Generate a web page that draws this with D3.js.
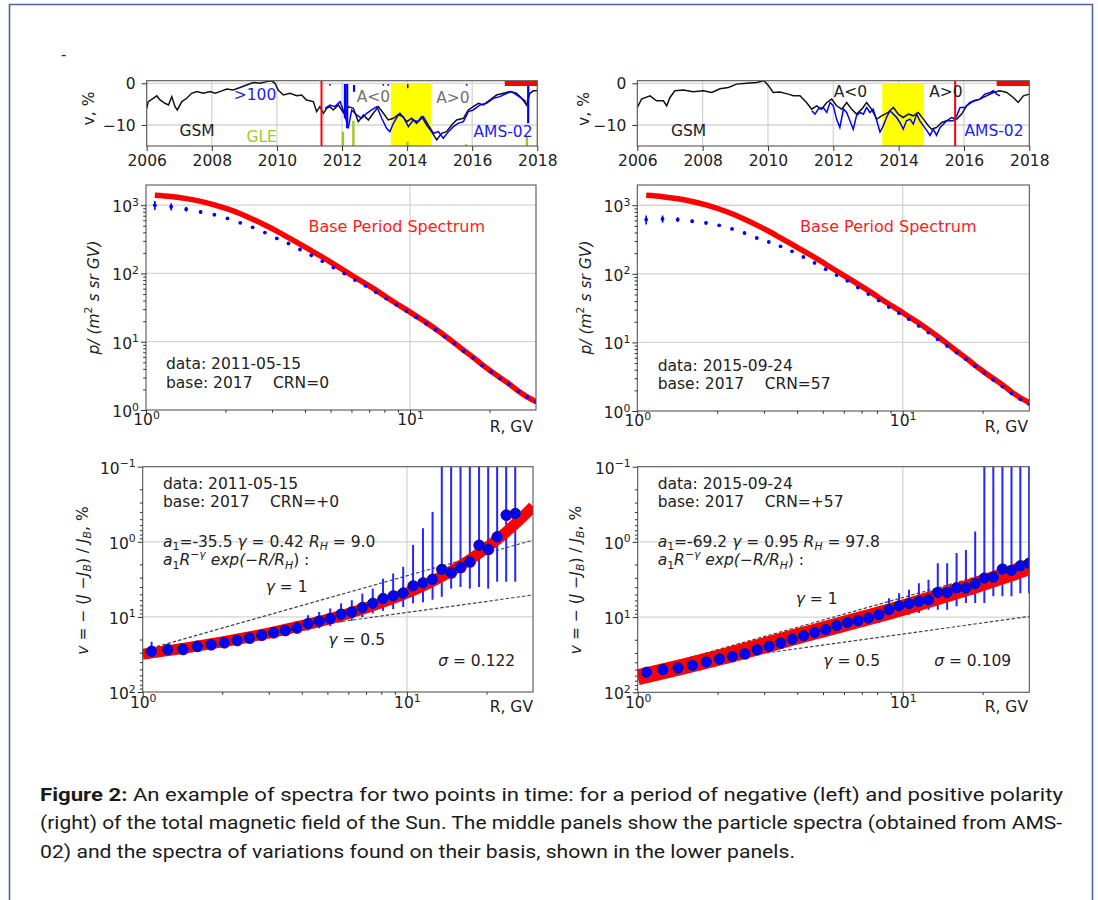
<!DOCTYPE html>
<html><head><meta charset="utf-8">
<script src="https://cdn.jsdelivr.net/npm/d3@7"></script>
<style>
body{margin:0;background:#fff}
svg{display:block}
text{font-family:"DejaVu Sans",sans-serif;fill:#222}
</style>
</head><body>
<svg id="c" width="1098" height="900"></svg>
<script>
// ---------------- DATA ----------------
const yearTicks = [2006,2008,2010,2012,2014,2016,2018];
const vTicks = [0,-10];

const gsmLT = [2006.00,2006.05,2006.20,2006.31,2006.41,2006.56,2006.67,2006.77,2006.87,2006.94,2007.08,2007.23,2007.38,2007.54,2007.74,2007.95,2008.10,2008.25,2008.46,2008.66,2008.87,2009.07,2009.28,2009.48,2009.69,2009.84,2009.94,2010.04,2010.20,2010.40,2010.61,2010.76,2010.91,2011.12,2011.22,2011.32,2011.43,2011.53,2011.63,2011.73,2011.89,2011.99,2012.09,2012.19,2012.35,2012.50,2012.66,2012.81,2012.96,2013.12,2013.27,2013.42,2013.58,2013.78,2013.99,2014.14,2014.29,2014.45,2014.60,2014.75,2014.91,2015.06,2015.21,2015.37,2015.52,2015.73,2015.88,2016.03,2016.19,2016.34,2016.55,2016.75,2016.96,2017.16,2017.36,2017.52,2017.67,2017.77,2017.88,2018.00];
const gsmLV = [-6.0,-4.4,-3.6,-3.0,-4.0,-4.8,-5.2,-3.2,-5.6,-6.4,-4.4,-3.6,-2.4,-2.0,-2.4,-2.0,-2.4,-2.0,-1.4,-1.6,-1.0,-0.4,0.2,0.0,0.4,0.6,0.0,-1.6,-2.8,-2.4,-3.0,-2.8,-4.0,-4.4,-6.8,-5.6,-7.2,-6.0,-5.6,-6.4,-5.2,-6.4,-7.6,-5.6,-6.0,-9.2,-7.6,-8.8,-7.2,-5.6,-7.2,-8.8,-8.4,-7.2,-9.2,-8.4,-9.6,-8.0,-10.0,-11.6,-13.6,-12.0,-11.6,-10.0,-8.8,-8.4,-6.4,-5.6,-4.8,-5.2,-4.0,-2.8,-2.4,-2.0,-2.4,-3.6,-5.2,-2.4,-1.8,-1.8];

const gsmRT = [2006.0,2006.13,2006.39,2006.59,2006.80,2006.90,2007.0,2007.15,2007.41,2007.71,2008.02,2008.28,2008.53,2008.79,2009.04,2009.35,2009.65,2009.88,2010.01,2010.16,2010.37,2010.62,2010.78,2010.98,2011.18,2011.34,2011.49,2011.64,2011.80,2011.95,2012.10,2012.26,2012.41,2012.56,2012.71,2012.87,2013.02,2013.17,2013.33,2013.48,2013.68,2013.84,2013.99,2014.14,2014.30,2014.45,2014.60,2014.76,2014.91,2015.01,2015.16,2015.32,2015.47,2015.62,2015.78,2015.93,2016.08,2016.29,2016.49,2016.69,2016.90,2017.10,2017.31,2017.51,2017.66,2017.82,2018.0];
const gsmRV = [-5.8,-3.8,-3.0,-4.2,-4.2,-5.4,-3.4,-1.8,-1.6,-2.0,-1.8,-2.2,-1.3,-1.0,-0.2,0.0,0.2,0.6,-0.5,-2.2,-2.1,-2.6,-3.0,-3.0,-4.6,-6.2,-5.4,-6.2,-4.6,-3.8,-5.4,-6.2,-4.6,-6.2,-7.4,-6.2,-4.6,-6.2,-8.6,-7.8,-7.0,-5.8,-7.4,-8.2,-7.4,-7.8,-7.0,-8.6,-10.2,-11.0,-10.6,-9.4,-9.0,-8.2,-8.6,-7.4,-5.4,-4.2,-3.8,-3.0,-2.2,-1.8,-2.2,-3.4,-4.6,-3.0,-2.6];

const amsLT = [2011.48,2011.63,2011.78,2011.94,2012.09,2012.19,2012.30,2012.45,2012.60,2012.76,2012.91,2013.07,2013.22,2013.37,2013.47,2013.58,2013.73,2013.88,2014.04,2014.19,2014.34,2014.50,2014.65,2014.81,2014.96,2015.11,2015.27,2015.42,2015.57,2015.73,2015.88,2016.03,2016.24,2016.44,2016.65,2016.85,2017.06,2017.21,2017.36,2017.52,2017.65];
const amsLV = [-6.0,-5.2,-5.6,-4.4,-7.6,-10.8,-6.4,-7.6,-8.4,-7.2,-6.4,-5.6,-8.4,-10.8,-11.6,-9.6,-7.6,-8.0,-10.4,-8.8,-9.2,-8.0,-10.0,-12.0,-11.6,-13.2,-11.6,-10.4,-9.6,-9.2,-6.8,-6.4,-5.2,-4.8,-3.6,-3.2,-2.4,-2.0,-2.8,-3.6,-4.4];

const amsRT = [2011.34,2011.44,2011.54,2011.69,2011.80,2011.90,2012.00,2012.10,2012.20,2012.31,2012.41,2012.51,2012.61,2012.71,2012.82,2012.92,2013.02,2013.12,2013.22,2013.33,2013.43,2013.53,2013.63,2013.73,2013.84,2013.94,2014.04,2014.14,2014.24,2014.35,2014.45,2014.55,2014.65,2014.76,2014.86,2014.96,2015.06,2015.16,2015.27,2015.37,2015.47,2015.57,2015.67,2015.78,2015.88,2016.03,2016.18,2016.34,2016.49,2016.64,2016.80,2016.90,2017.00,2017.10];
const amsRV = [-6.6,-7.4,-6.2,-5.8,-7.0,-4.6,-5.4,-8.6,-10.6,-6.2,-7.0,-9.0,-11.0,-7.8,-7.0,-7.4,-5.8,-7.0,-6.2,-9.0,-11.7,-10.2,-8.2,-6.6,-7.4,-8.2,-9.4,-11.0,-9.0,-8.6,-9.8,-7.4,-9.0,-10.2,-11.3,-12.5,-11.0,-12.5,-10.6,-9.8,-9.0,-9.0,-9.0,-7.8,-5.8,-5.8,-4.6,-4.2,-3.8,-2.6,-2.2,-1.8,-2.6,-3.0];

// AMS-02 spikes (left panel): time, top, bottom
const spikeT = [2012.09,2012.16,2012.37,2017.72,2011.63,2013.27,2013.42,2014.02,2015.83];
const spikeTop = [-0.2,-0.2,-0.4,-0.6,-0.2,-0.2,-0.2,-0.2,-0.2];
const spikeBot = [-8.4,-10.8,-2.0,-9.6,-0.6,-0.6,-0.6,-1.2,-0.6];
// GLE markers
const gleT = [2012.03,2012.35,2014.01,2015.81,2017.68];
const gleTop = [-11.6,-9.0,-14.0,-14.6,-12.8];
// shaded polarity-reversal period, base period bar, spectrum dates
const reversal = [2013.5, 2014.75];
const basePeriod = [2017.0, 2018.0];
const dateL = 2011.37, dateR = 2015.73;

// rigidity bins (GV)
const R = [1.08,1.245,1.42,1.61,1.815,2.035,2.275,2.535,2.82,3.13,3.465,3.83,4.225,4.655,5.125,5.635,6.185,6.78,7.425,8.12,8.87,9.68,10.55,11.5,12.5,13.55,14.7,15.95,17.3,18.75,20.3,21.95,23.75,25.7,27.75,29.95];
const fluxL = [1000,948,873,795,724,638,551,474,396,326,275,224,184,151,122,99.5,79.8,65.9,53.2,42.9,34.8,28.1,22.8,18.4,14.9,11.9,9.4,7.3,5.8,4.5,3.6,2.9,2.4,1.88,1.54,1.31];
const fluxR = [617,632,617,584,552,510,451,394,333,291,252,213,176,144,117,96,79,63,50.6,40.9,32.7,26.7,21.8,17.4,13.9,11.1,8.9,7.1,5.7,4.5,3.6,2.84,2.27,1.81,1.48,1.26];
const baseFlux = [1396,1334,1245,1135,1012,881,750,624,513,417,335,269,216,174,138,110,88,70.8,56.9,45.2,36.3,29.5,23.7,19.2,15.3,12.2,9.6,7.5,5.95,4.62,3.68,2.97,2.41,1.9,1.56,1.33];
const fluxErr = [0.15,0.12,0.08,0.06,0.05,0.04,0.03,0.03,0.03,0.02,0.02,0.02,0.02,0.02,0.02,0.02,0.02,0.02,0.02,0.02,0.02,0.02,0.02,0.02,0.02,0.02,0.02,0.02,0.02,0.02,0.02,0.02,0.02,0.02,0.02,0.02];

// variations |v| in %
const vL = [28.7,27.3,27.0,24.6,23.4,22.0,20.5,19.1,17.5,16.2,15.1,14.0,12.3,11.4,10.5,9.2,8.6,7.5,6.6,5.7,5.25,4.8,3.86,3.52,3.15,2.34,2.59,2.2,1.85,1.11,1.26,0.857,0.44,0.42];
const loL = [21.5,24.5,24.2,22,21,19.5,18,16.7,15.2,13.8,12.6,11.4,9.5,8.6,7.7,6.6,6.0,4.9,4.2,3.1,2.64,2.15,1.1,0.66,0.4,0.05,0.05,0.05,0.05,0.05,0.05,0.05,0.05,0.05];
const hiL = [33,30.5,30,27.5,26,24.5,23,21.5,19.8,18.6,17.6,16.6,15.2,14.2,13.3,11.8,11.2,10.1,9.0,8.3,7.9,7.4,6.6,6.4,5.9,5.4,4.2,4.0,4.2,4.0,4.2,3.4,3.4,3.4];
const vR = [54.3,50.1,47.5,43.8,39.6,36.1,33.3,30.7,27.1,24.5,22.1,19.6,17.7,16.0,14.7,13.0,11.8,11.1,10.3,9.3,8.0,7.1,6.65,6.2,5.9,4.7,4.7,4.1,4.1,3.6,3.03,2.94,2.3,2.4,2.08,1.92];
const loR = [49,45,43,39.5,35.6,32.5,30,27.6,24.4,22,19.9,17.6,15.9,14.2,12.9,11.3,10.0,9.2,8.3,7.2,5.6,4.8,4.33,3.54,3.19,1.92,1.92,1.41,1.28,0.73,0.05,0.05,0.05,0.05,0.05,0.05];
const hiR = [60,55.5,52.5,48.5,44,40,37,34,30,27.2,24.5,21.8,19.6,17.8,16.4,14.5,13.3,12.6,11.8,12.0,10.8,9.8,9.3,8.85,8.0,8.0,8.0,7.2,6.5,6.5,6.5,5.3,5.3,5.3,4.8,4.8];

// fitted curves
const fitX = [1,1.5,2,3,4,5,7,10,12.5,15,17.5,20,22.5,25,27.5,30];
const fitL = [31.5,25.5,21.5,16.4,13.1,10.8,7.6,4.8,3.35,2.35,1.68,1.2,0.87,0.63,0.46,0.34];
const fitRt = [63,45,35,23.8,18.0,14.6,10.6,7.5,5.9,4.85,4.1,3.5,3.05,2.7,2.4,2.15];
// reference power laws gamma=1 and gamma=0.5
const refX = [1.08, 30];
const g1L = [26, 0.95], g05L = [26, 5.1];
const g1R = [50, 1.85], g05R = [50, 9.8];

// ---------------- DRAWING ----------------
const svg = d3.select("#c");
const FS = 15.5;
const RED = "#ff0000", BLUE = "#0000ff";

svg.append("path").attr("d","M9.5,900V4.5H1092.5V900").attr("fill","none")
  .attr("stroke","#4a62a8").attr("stroke-width",1.6);
svg.append("text").attr("x",61).attr("y",60).attr("font-size",15).text("-");

function rich(t, segs, fs){
  let shift = 0;
  segs.forEach(([s, st]) => {
    st = st || "";
    const ts = t.append("tspan").text(s);
    let target = 0, size = fs;
    if (st.includes("sub")) { target = 0.25*fs; size = 0.7*fs; }
    if (st.includes("sup")) { target = -0.42*fs; size = 0.7*fs; }
    if (target !== shift) { ts.attr("dy", target - shift); shift = target; }
    ts.attr("font-size", size);
    if (st.startsWith("i")) ts.attr("font-style","italic");
  });
}
function txt(x, y, segs, opt={}){
  const t = svg.append("text").attr("x",x).attr("y",y)
    .attr("font-size",opt.fs||FS).attr("text-anchor",opt.anchor||"start");
  if (opt.fill) t.style("fill",opt.fill);
  if (opt.rot) t.attr("transform",`rotate(-90,${x},${y})`);
  if (typeof segs === "string") t.text(segs); else rich(t, segs, opt.fs||FS);
  return t;
}
let clipN = 0;
function clip(p){
  const id = "clp"+(clipN++);
  svg.append("clipPath").attr("id",id).append("rect")
    .attr("x",p.x0).attr("y",p.y0).attr("width",p.x1-p.x0).attr("height",p.y1-p.y0);
  return svg.append("g").attr("clip-path",`url(#${id})`);
}
function frame(p){
  svg.append("rect").attr("x",p.x0).attr("y",p.y0).attr("width",p.x1-p.x0).attr("height",p.y1-p.y0)
    .attr("fill","none").attr("stroke","#555").attr("stroke-width",1.1);
}
function styleAxis(g){
  g.attr("font-size",null).attr("font-family",null);
  g.select(".domain").remove();
  g.selectAll(".tick line").attr("stroke","#333").attr("stroke-width",1);
}
function minorsLog(dom){
  const out = [];
  for (let e = -2; e <= 3; e++) for (let m = 2; m <= 9; m++){
    const v = m*Math.pow(10,e);
    if (v > dom[0] && v < dom[1]) out.push(v);
  }
  return out;
}
function expOf(d){ const e = Math.round(Math.log10(d)); return e < 0 ? "\u2212"+(-e) : String(e); }

function logXAxis(p, x, labY){
  const g = svg.append("g").attr("transform",`translate(0,${p.y1})`)
    .call(d3.axisBottom(x).tickValues([1,10]).tickSize(5).tickSizeOuter(0).tickFormat(()=>""));
  styleAxis(g);
  g.selectAll(".tick text").attr("y",labY).attr("dy",0).attr("font-size",FS).attr("fill",null)
    .each(function(d){ rich(d3.select(this), [["10"],[expOf(d),"sup"]], FS); });
  const gm = svg.append("g").attr("transform",`translate(0,${p.y1})`)
    .call(d3.axisBottom(x).tickValues(minorsLog(x.domain())).tickSize(2.8).tickFormat(()=>""));
  styleAxis(gm);
}
function logYAxis(p, y, majors){
  const g = svg.append("g").attr("transform",`translate(${p.x0},0)`)
    .call(d3.axisLeft(y).tickValues(majors).tickSize(5).tickSizeOuter(0).tickFormat(()=>""));
  styleAxis(g);
  g.selectAll(".tick text").attr("x",-7).attr("dy",6.5).attr("font-size",FS).attr("fill",null)
    .each(function(d){ rich(d3.select(this), [["10"],[expOf(d),"sup"]], FS); });
  const dom = y.domain().slice().sort((a,b)=>a-b);
  const gm = svg.append("g").attr("transform",`translate(${p.x0},0)`)
    .call(d3.axisLeft(y).tickValues(minorsLog(dom)).tickSize(2.8).tickFormat(()=>""));
  styleAxis(gm);
}

// ---------- top panels ----------
function topPanel(p, gT, gV, aT, aV, dateT, left){
  const x = d3.scaleLinear().domain([2006,2018]).range([p.x0,p.x1]);
  const y = d3.scaleLinear().domain([-15.04,0.62]).range([p.y1,p.y0]);
  const g = clip(p);
  yearTicks.forEach(t => g.append("line").attr("x1",x(t)).attr("x2",x(t)).attr("y1",p.y0).attr("y2",p.y1)
    .attr("stroke","#d4d4d4").attr("stroke-width",1.3));
  vTicks.forEach(v => g.append("line").attr("x1",p.x0).attr("x2",p.x1).attr("y1",y(v)).attr("y2",y(v))
    .attr("stroke","#d4d4d4").attr("stroke-width",1.3));
  g.append("rect").attr("x",x(reversal[0])).attr("width",x(reversal[1])-x(reversal[0]))
    .attr("y",y(0)).attr("height",y(-15.04)-y(0)).attr("fill","#ffff00");
  if (left){
    gleT.forEach((t,i)=> g.append("line").attr("x1",x(t)).attr("x2",x(t)).attr("y1",y(gleTop[i])).attr("y2",y(-15.04))
      .attr("stroke","#99cc22").attr("stroke-width",2.4));
  }
  const line = d3.line().x(d=>x(d[0])).y(d=>y(d[1]));
  g.append("path").attr("d",line(d3.zip(gT,gV))).attr("fill","none").attr("stroke","#111").attr("stroke-width",1.5);
  g.append("path").attr("d",line(d3.zip(aT,aV))).attr("fill","none").attr("stroke",BLUE).attr("stroke-width",1.5);
  if (left){
    spikeT.forEach((t,i)=> g.append("line").attr("x1",x(t)).attr("x2",x(t)).attr("y1",y(spikeTop[i])).attr("y2",y(spikeBot[i]))
      .attr("stroke",BLUE).attr("stroke-width",i<4?2.2:1.5));
  }
  g.append("line").attr("x1",x(dateT)).attr("x2",x(dateT)).attr("y1",p.y0).attr("y2",p.y1)
    .attr("stroke",RED).attr("stroke-width",2);
  g.append("rect").attr("x",x(basePeriod[0])).attr("width",x(basePeriod[1])-x(basePeriod[0]))
    .attr("y",y(0.55)).attr("height",y(-0.65)-y(0.55)).attr("fill",RED);
  frame(p);
  const gx = svg.append("g").attr("transform",`translate(0,${p.y1})`)
    .call(d3.axisBottom(x).tickValues(yearTicks).tickSize(5).tickSizeOuter(0).tickFormat(d3.format("d")));
  styleAxis(gx);
  gx.selectAll(".tick text").attr("y",20).attr("dy",0).attr("font-size",FS).attr("fill",null);
  const gy = svg.append("g").attr("transform",`translate(${p.x0},0)`)
    .call(d3.axisLeft(y).tickValues(vTicks).tickSize(5).tickSizeOuter(0).tickFormat(d => d===0?"0":"\u221210"));
  styleAxis(gy);
  gy.selectAll(".tick text").attr("x",-11).attr("dy",5.3).attr("font-size",FS).attr("fill",null);
}

const TL = {x0:146.7,x1:537.3,y0:80.7,y1:146};
const TR = {x0:637.3,x1:1029.3,y0:80.7,y1:146};
topPanel(TL, gsmLT, gsmLV, amsLT, amsLV, dateL, true);
topPanel(TR, gsmRT, gsmRV, amsRT, amsRV, dateR, false);
txt(94,108.5,"v, %",{rot:true,anchor:"middle"});
txt(588.5,109,"v, %",{rot:true,anchor:"middle"});
txt(197,136,"GSM",{anchor:"middle"});
txt(261.7,141.5,"GLE",{anchor:"middle",fill:"#99cc22"});
txt(255,99.5,">100",{anchor:"middle",fill:"#2222ee"});
txt(373.5,102,"A<0",{anchor:"middle",fill:"#707070"});
txt(453,103,"A>0",{anchor:"middle",fill:"#707070"});
txt(503,136.5,"AMS-02",{anchor:"middle",fill:"#2222ee"});
txt(688.5,136,"GSM",{anchor:"middle"});
txt(850.5,96.5,"A<0",{anchor:"middle"});
txt(946,96.5,"A>0",{anchor:"middle"});
txt(994,136,"AMS-02",{anchor:"middle",fill:"#2222ee"});

// ---------- middle panels ----------
function specPanel(p, flux){
  const x = d3.scaleLog().domain([1,30]).range([p.x0,p.x1]);
  const y = d3.scaleLog().domain([1,Math.pow(10,3.295)]).range([p.y1,p.y0]);
  const g = clip(p);
  [10].forEach(v => g.append("line").attr("x1",x(v)).attr("x2",x(v)).attr("y1",p.y0).attr("y2",p.y1)
    .attr("stroke","#d4d4d4").attr("stroke-width",1.3));
  [10,100,1000].forEach(v => g.append("line").attr("x1",p.x0).attr("x2",p.x1).attr("y1",y(v)).attr("y2",y(v))
    .attr("stroke","#d4d4d4").attr("stroke-width",1.3));
  const line = d3.line().x(d=>x(d[0])).y(d=>y(d[1])).curve(d3.curveMonotoneX);
  g.append("path").attr("d",line(d3.zip(R,baseFlux))).attr("fill","none").attr("stroke",RED).attr("stroke-width",5.5);
  R.forEach((r,i)=>{
    g.append("line").attr("x1",x(r)).attr("x2",x(r))
      .attr("y1",y(flux[i]*(1+fluxErr[i]))).attr("y2",y(flux[i]*(1-fluxErr[i])))
      .attr("stroke",BLUE).attr("stroke-width",1.6);
    g.append("circle").attr("cx",x(r)).attr("cy",y(flux[i])).attr("r",1.9).attr("fill",BLUE);
  });
  frame(p);
  logXAxis(p, x, 15);
  logYAxis(p, y, [1,10,100,1000]);
}
const ML = {x0:146,x1:536,y0:185,y1:410};
const MR = {x0:637.3,x1:1029.3,y0:185,y1:411};
specPanel(ML, fluxL);
specPanel(MR, fluxR);
const ylabM = [["p/ (m","i"],["2","sup"],[" s sr GV)","i"]];
txt(98.5,297.5,ylabM,{rot:true,anchor:"middle"});
txt(590.5,297.5,ylabM,{rot:true,anchor:"middle"});
txt(396.7,232,"Base Period Spectrum",{anchor:"middle",fill:"#ff1a1a",fs:16});
txt(888.3,232,"Base Period Spectrum",{anchor:"middle",fill:"#ff1a1a",fs:16});
txt(166,369,"data: 2011-05-15");
txt(166,387.5,"base: 2017\u2003 CRN=0");
txt(657.7,370.5,"data: 2015-09-24");
txt(657.7,389,"base: 2017\u2003 CRN=57");
txt(533,432,"R, GV",{anchor:"end"});
txt(1028,432,"R, GV",{anchor:"end"});

// ---------- bottom panels ----------
function varPanel(p, v, lo, hi, fit, g1, g05, bandW){
  const x = d3.scaleLog().domain([1,30]).range([p.x0,p.x1]);
  const y = d3.scaleLog().domain([0.1,100]).range([p.y0,p.y1]);
  const g = clip(p);
  [10].forEach(d => g.append("line").attr("x1",x(d)).attr("x2",x(d)).attr("y1",p.y0).attr("y2",p.y1)
    .attr("stroke","#d4d4d4").attr("stroke-width",1.3));
  [1,10].forEach(d => g.append("line").attr("x1",p.x0).attr("x2",p.x1).attr("y1",y(d)).attr("y2",y(d))
    .attr("stroke","#d4d4d4").attr("stroke-width",1.3));
  const line = d3.line().x(d=>x(d[0])).y(d=>y(d[1]));
  [g1,g05].forEach(a => g.append("path").attr("d",line(d3.zip(refX,a))).attr("fill","none")
    .attr("stroke","#444").attr("stroke-width",1.2).attr("stroke-dasharray","3.5,2"));
  v.forEach((d,i)=> g.append("line").attr("x1",x(R[i])).attr("x2",x(R[i]))
    .attr("y1",y(Math.max(lo[i],0.05))).attr("y2",y(hi[i])).attr("stroke","#2525ff").attr("stroke-width",2));
  g.append("path").attr("d",line.curve(d3.curveMonotoneX)(d3.zip(fitX,fit))).attr("fill","none")
    .attr("stroke",RED).attr("stroke-width",bandW);
  v.forEach((d,i)=>{
    g.append("circle").attr("cx",x(R[i])+0.4).attr("cy",y(d)+0.4).attr("r",5.7).attr("fill","#c020c8");
    g.append("circle").attr("cx",x(R[i])).attr("cy",y(d)).attr("r",5.2).attr("fill",BLUE)
      .attr("stroke","#14145a").attr("stroke-width",1);
  });
  frame(p);
  logXAxis(p, x, 16);
  logYAxis(p, y, [0.1,1,10,100]);
}
const BL = {x0:142.7,x1:533,y0:466.7,y1:692};
const BR = {x0:637.7,x1:1029.3,y0:466.7,y1:692.3};
varPanel(BL, vL, loL, hiL, fitL, g1L, g05L, 11);
varPanel(BR, vR, loR, hiR, fitRt, g1R, g05R, 16);
const ylabB = [["v","i"],[" = \u2212 ("],["J","i"],[" \u2212"],["J","i"],["B","isub"],[") / "],["J","i"],["B","isub"],[", %"]];
txt(87.5,580.5,ylabB,{rot:true,anchor:"middle"});
txt(580.5,580,ylabB,{rot:true,anchor:"middle"});

function fitText(x0, a1, gam, rh, crn, date){
  txt(x0,488.5,"data: "+date);
  txt(x0,507,"base: 2017\u2003 CRN="+crn);
  txt(x0,546.5,[["a","i"],["1","sub"],["="+a1+"  "],["\u03b3","i"],[" = "+gam+"  "],["R","i"],["H","isub"],[" = "+rh]]);
  txt(x0,565,[["a","i"],["1","sub"],["R","i"],["\u2212\u03b3","isup"],[" exp(\u2212","i"],["R/R","i"],["H","isub"],[") :"]]);
}
fitText(163,"-35.5","0.42"," 9.0","+0","2011-05-15");
fitText(657.7,"-69.2","0.95","97.8","+57","2015-09-24");
txt(286.7,592,[["\u03b3","i"],[" = 1"]],{anchor:"middle"});
txt(356.7,644.5,[["\u03b3","i"],[" = 0.5"]],{anchor:"middle"});
txt(476.7,665.5,[["\u03c3","i"],[" = 0.122"]],{anchor:"middle"});
txt(816.7,603.5,[["\u03b3","i"],[" = 1"]],{anchor:"middle"});
txt(851.7,666,[["\u03b3","i"],[" = 0.5"]],{anchor:"middle"});
txt(972.7,666,[["\u03c3","i"],[" = 0.109"]],{anchor:"middle"});
txt(533,712,"R, GV",{anchor:"end"});
txt(1028,712,"R, GV",{anchor:"end"});

// ---------- caption ----------
const cap = [
  {y:800.5, w:1023, bold:"Figure 2:", rest:"  An example of spectra for two points in time: for a period of negative (left) and positive polarity"},
  {y:829, w:1022, bold:"", rest:"(right) of the total magnetic field of the Sun. The middle panels show the particle spectra (obtained from AMS-"},
  {y:857.5, w:755, bold:"", rest:"02) and the spectra of variations found on their basis, shown in the lower panels."}
];
cap.forEach(c=>{
  const t = svg.append("text").attr("x",40).attr("y",c.y).attr("font-size",17.5)
    .style("font-family","Roboto, 'Noto Sans', sans-serif").style("fill","#1a1a1a")
    .attr("textLength",c.w).attr("lengthAdjust","spacingAndGlyphs");
  if (c.bold) t.append("tspan").attr("font-weight","bold").text(c.bold);
  t.append("tspan").text(c.rest);
});
</script>
</body></html>
